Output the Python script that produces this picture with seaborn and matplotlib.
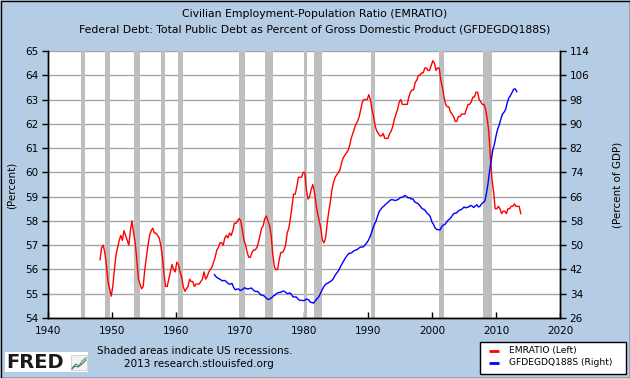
import numpy as np
import pandas as pd
import matplotlib
matplotlib.use("Agg")
import matplotlib.pyplot as plt
import seaborn as sns
from matplotlib.patches import Rectangle
from matplotlib.lines import Line2D

# ---------------- data ----------------
# EMRATIO, quarterly (1948Q1 .. 2013Q4), percent
emratio_start = 1948
emratio_q = [
    56.4, 56.9, 57.0, 56.7,  56.2, 55.5, 55.2, 54.9,  55.3, 56.0, 56.6, 56.9,
    57.2, 57.4, 57.2, 57.6,  57.4, 57.2, 57.0, 57.6,  58.0, 57.5, 57.1, 56.4,
    55.6, 55.4, 55.2, 55.3,  56.0, 56.5, 57.0, 57.4,  57.6, 57.7, 57.5, 57.5,
    57.4, 57.3, 57.0, 56.5,  55.8, 55.3, 55.3, 55.6,  55.9, 56.2, 56.0, 55.9,
    56.3, 56.2, 55.9, 55.7,  55.3, 55.1, 55.2, 55.3,  55.6, 55.5, 55.5, 55.3,
    55.4, 55.4, 55.4, 55.5,  55.6, 55.9, 55.6, 55.7,  55.9, 56.0, 56.1, 56.3,
    56.5, 56.8, 56.9, 57.1,  57.1, 57.0, 57.3, 57.4,  57.3, 57.5, 57.4, 57.6,
    57.9, 57.9, 58.0, 58.1,  58.0, 57.6, 57.2, 57.0,  56.7, 56.5, 56.5, 56.7,
    56.8, 56.8, 56.9, 57.1,  57.4, 57.7, 57.8, 58.1,  58.2, 58.0, 57.8, 57.4,
    56.6, 56.1, 56.0, 56.0,  56.4, 56.7, 56.7, 56.8,  57.0, 57.5, 57.7, 58.1,
    58.6, 59.1, 59.1, 59.4,  59.8, 59.8, 59.8, 60.0,  60.0, 59.3, 58.9, 59.0,
    59.3, 59.5, 59.2, 58.7,  58.3, 58.0, 57.7, 57.2,  57.1, 57.3, 57.9, 58.4,
    58.8, 59.3, 59.6, 59.8,  59.9, 60.0, 60.1, 60.4,  60.6, 60.7, 60.8, 60.9,
    61.1, 61.4, 61.6, 61.8,  62.0, 62.1, 62.3, 62.6,  62.9, 63.0, 63.0, 63.0,
    63.2, 63.0, 62.6, 62.3,  61.9, 61.7, 61.6, 61.5,  61.5, 61.6, 61.4, 61.4,
    61.4, 61.6, 61.7, 61.9,  62.2, 62.4, 62.6, 62.9,  63.0, 62.8, 62.8, 62.8,
    62.8, 63.1, 63.3, 63.4,  63.4, 63.7, 63.8, 64.0,  64.0, 64.1, 64.1, 64.3,
    64.3, 64.2, 64.2, 64.4,  64.6, 64.5, 64.2, 64.3,  64.3, 63.8, 63.5, 63.1,
    62.8, 62.7, 62.7, 62.5,  62.4, 62.3, 62.1, 62.1,  62.3, 62.3, 62.4, 62.4,
    62.4, 62.6, 62.8, 62.8,  62.9, 63.1, 63.1, 63.3,  63.3, 63.0, 62.9, 62.8,
    62.8, 62.6, 62.2, 61.7,  60.6, 59.7, 59.2, 58.5,  58.5, 58.6, 58.5, 58.3,
    58.4, 58.4, 58.3, 58.5,  58.5, 58.6, 58.6, 58.7,  58.6, 58.6, 58.6, 58.3,
]

# GFDEGDQ188S, quarterly (1966Q1 .. 2013Q2), percent of GDP
debt_start = 1966
debt_q = [
    40.3, 39.6, 39.2, 38.9,  38.6, 38.2, 38.4, 38.2,  37.7, 37.2, 37.2, 37.4,
    36.1, 35.3, 35.5, 35.6,  35.1, 35.2, 35.6, 36.0,  35.6, 35.6, 35.7, 35.9,
    35.4, 34.9, 34.7, 34.8,  34.2, 33.6, 33.5, 33.3,  32.8, 32.3, 32.1, 32.4,
    32.8, 33.3, 33.6, 34.1,  34.4, 34.4, 34.6, 34.9,  34.7, 34.2, 34.0, 34.3,
    33.9, 33.0, 32.9, 33.0,  32.4, 31.9, 31.8, 31.8,  31.7, 32.1, 32.2, 31.9,
    31.2, 31.1, 30.9, 31.6,  32.3, 32.8, 33.8, 34.9,  36.0, 36.8, 37.3, 37.5,
    37.9, 38.2, 38.7, 39.7,  40.5, 41.2, 42.0, 43.1,  44.1, 45.0, 45.9, 46.6,
    47.3, 47.3, 47.6, 48.1,  48.3, 48.5, 48.9, 49.3,  49.4, 49.4, 50.0, 50.6,
    51.4, 52.4, 53.8, 55.4,  56.8, 57.9, 59.6, 61.1,  61.8, 62.5, 62.9, 63.5,
    63.9, 64.4, 64.9, 65.0,  64.9, 64.7, 64.9, 65.1,  65.6, 65.8, 65.9, 66.4,
    66.1, 65.6, 65.7, 65.2,  65.3, 64.4, 64.0, 63.8,  63.3, 62.6, 62.0, 61.8,
    61.2, 60.5, 60.1, 59.3,  57.6, 56.8, 55.6, 55.2,  55.1, 55.0, 56.0, 56.6,
    56.8, 57.5, 58.2, 58.6,  59.2, 60.0, 60.6, 60.5,  61.0, 61.5, 61.7, 62.0,
    62.6, 62.3, 62.5, 62.6,  63.1, 62.9, 62.4, 62.9,  63.3, 62.6, 62.8, 63.6,
    64.1, 64.5, 67.0, 70.3,  74.5, 78.0, 81.4, 83.2,  86.0, 88.2, 89.6, 91.5,
    93.2, 93.8, 94.7, 96.9,  98.5, 99.3, 100.3, 101.4,  101.5, 100.6,
]

recession_starts = ["1945-02", "1948-11", "1953-07", "1957-08", "1960-04", "1969-12",
                    "1973-11", "1980-01", "1981-07", "1990-07", "2001-03", "2007-12"]
recession_ends = ["1945-10", "1949-10", "1954-05", "1958-04", "1961-02", "1970-11",
                  "1975-03", "1980-07", "1982-11", "1991-03", "2001-11", "2009-06"]

x_ticks = [1940, 1950, 1960, 1970, 1980, 1990, 2000, 2010, 2020]
left_ticks = [54, 55, 56, 57, 58, 59, 60, 61, 62, 63, 64, 65]
right_ticks = [26, 34, 42, 50, 58, 66, 74, 82, 90, 98, 106, 114]

title_lines = ["Civilian Employment-Population Ratio (EMRATIO)",
               "Federal Debt: Total Public Debt as Percent of Gross Domestic Product (GFDEGDQ188S)"]
left_label = "(Percent)"
right_label = "(Percent of GDP)"
legend_labels = ["EMRATIO (Left)", "GFDEGDQ188S (Right)"]
series_colors = ["#FF0000", "#0000FF"]

# ---------------- helpers ----------------
def to_year(s):
    y, m = s.split("-")
    return int(y) + (int(m) - 1) / 12.0

em_df = pd.DataFrame({
    "year": emratio_start + np.arange(len(emratio_q)) * 0.25 + 0.125,
    "value": emratio_q,
})
debt_df = pd.DataFrame({
    "year": debt_start + np.arange(len(debt_q)) * 0.25,
    "value": debt_q,
})

BG = "#B4CDE4"
FS = 7.5
plt.rcParams["font.family"] = ["DejaVu Sans"]

W, H = 630, 378
fig = plt.figure(figsize=(W / 100, H / 100), dpi=100, facecolor=BG)
L, R, T, B = 48, 560, 51, 318
ax = fig.add_axes([L / W, 1 - B / H, (R - L) / W, (B - T) / H])
ax.set_facecolor("white")
ax2 = ax.twinx()

def fx(px):
    return px / W

def fy(py):
    return 1 - py / H

# recession shading
for s, e in zip(recession_starts, recession_ends):
    ax.axvspan(to_year(s), to_year(e), color="#BEBEBE", lw=0, zorder=1)

# grid
ax.set_axisbelow(True)
ax.yaxis.grid(True, color="#A6A6A6", lw=1.0, zorder=0.5)
ax.xaxis.grid(False)

sns.lineplot(data=em_df, x="year", y="value", ax=ax, color=series_colors[0], lw=1.0, zorder=3)
sns.lineplot(data=debt_df, x="year", y="value", ax=ax2, color=series_colors[1], lw=1.0, zorder=3)

ax.set_xlim(1940, 2020)
ax.set_ylim(54, 65)
ax2.set_ylim(26, 114)
ax.set_xticks(x_ticks)
ax.set_yticks(left_ticks)
ax2.set_yticks(right_ticks)
for a in (ax, ax2):
    a.set_xlabel("")
    a.set_ylabel("")

ax.tick_params(axis="x", direction="in", length=4, width=1, pad=6, labelsize=FS, colors="black")
ax.tick_params(axis="y", direction="out", length=4, width=1, pad=3, labelsize=FS, colors="black")
ax2.tick_params(axis="y", direction="out", length=4, width=1, pad=3, labelsize=FS, colors="black")

for a in (ax, ax2):
    a.spines["top"].set_visible(False)
    for sp in ("left", "right", "bottom"):
        a.spines[sp].set_color("black")
        a.spines[sp].set_linewidth(1.0)

# axis labels
fig.text(fx(12), fy(185), left_label, rotation=90, ha="center", va="center", fontsize=FS)
fig.text(fx(617), fy(185), right_label, rotation=90, ha="center", va="center", fontsize=FS)

# titles
fig.text(fx(315), fy(14), title_lines[0], ha="center", va="center", fontsize=7.8)
fig.text(fx(315), fy(30), title_lines[1], ha="center", va="center", fontsize=7.8)

# footer
fig.text(fx(97), fy(351), "Shaded areas indicate US recessions.", ha="left", va="center", fontsize=FS)
fig.text(fx(124), fy(364), "2013 research.stlouisfed.org", ha="left", va="center", fontsize=FS)
fig.patches.append(Rectangle((fx(5), fy(372)), 83 / W, 20 / H, transform=fig.transFigure,
                             facecolor="white", edgecolor="none", zorder=1))
fig.text(fx(6), fy(362.5), "FRED", ha="left", va="center", fontsize=14, fontweight="heavy",
         color="#1a1a1a", zorder=2)
# small logo icon
fig.patches.append(Rectangle((fx(71), fy(370)), 16 / W, 15 / H, transform=fig.transFigure,
                             facecolor="#F2F2F2", edgecolor="#C8C8C8", lw=0.5, zorder=2))
fig.lines.append(Line2D([fx(72), fx(76), fx(79), fx(82), fx(86)],
                        [fy(368), fy(364), fy(366), fy(361), fy(358)],
                        transform=fig.transFigure, color="#5AA02C", lw=0.8, zorder=3))
fig.lines.append(Line2D([fx(72), fx(75), fx(78), fx(82), fx(86)],
                        [fy(369), fy(366), fy(367), fy(364), fy(360)],
                        transform=fig.transFigure, color="#3A6EA5", lw=0.8, zorder=3))

# legend (manual box)
fig.patches.append(Rectangle((fx(480), fy(374)), 146 / W, 32 / H, transform=fig.transFigure,
                             facecolor="white", edgecolor="black", lw=1.0, zorder=5))
for i, (lab, col) in enumerate(zip(legend_labels, series_colors)):
    yy = 350.5 + i * 12.0
    fig.lines.append(Line2D([fx(489), fx(499)], [fy(yy), fy(yy)], transform=fig.transFigure,
                            color=col, lw=2.0, zorder=6, solid_capstyle="butt"))
    fig.text(fx(509), fy(yy), lab, ha="left", va="center", fontsize=6.6, zorder=6)

# outer border
fig.patches.append(Rectangle((0.5 / W, 0.5 / H), (W - 1) / W, (H - 1) / H, transform=fig.transFigure,
                             facecolor="none", edgecolor="black", lw=1.0, zorder=10))

fig.savefig("out.png", dpi=100, facecolor=BG)
